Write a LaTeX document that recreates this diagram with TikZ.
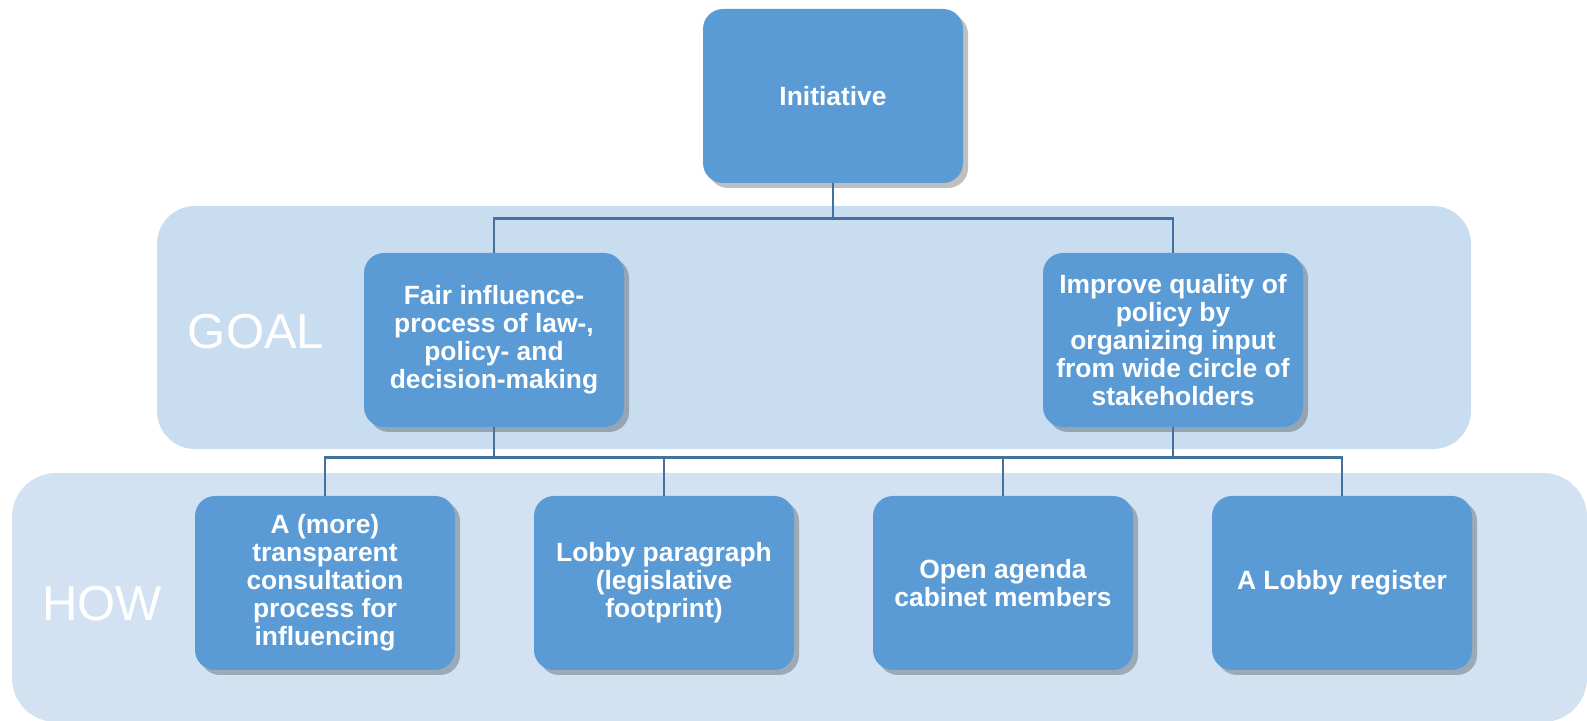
\documentclass[tikz,border=0pt]{standalone}
\usepackage{fontspec}
\setmainfont{Liberation Sans}
\usetikzlibrary{shadows}
\definecolor{boxblue}{HTML}{5B9BD5}
\definecolor{goalband}{HTML}{C9DDF0}
\definecolor{howband}{HTML}{D2E2F2}
\definecolor{linkblue}{HTML}{41719C}
\begin{document}
\begin{tikzpicture}[x=0.5pt,y=-0.5pt,
	box/.style={fill=boxblue, rounded corners=10pt, minimum width=130pt, minimum height=87pt,
		text=white, align=center, font=\fontsize{13.2}{14}\selectfont\bfseries,
		drop shadow={shadow xshift=2.5pt, shadow yshift=-2.5pt, fill=black, opacity=0.25}},
	link/.style={draw=linkblue, line width=1.2pt},
	tag/.style={text=white, font=\fontsize{24.5}{28}\selectfont}]
	\useasboundingbox (0,0) rectangle (1587,721);
	% bands
	\fill [goalband, rounded corners=19pt] (157,206) rectangle (1471,449);
	\fill [howband, rounded corners=22pt] (12,473) rectangle (1587,722);
	\node [tag] (goal) at (256,332) {GOAL};
	\node [tag] (how) at (102,604) {HOW};
	% boxes
	\node [box] (init) at (833,96) {Initiative};
	\node [box] (fair) at (494,340) {Fair influence-\\process of law-,\\policy- and\\decision-making};
	\node [box] (improve) at (1173,340) {Improve quality of\\policy by\\organizing input\\from wide circle of\\stakeholders};
	\node [box] (consult) at (325,583) {A (more)\\transparent\\consultation\\process for\\influencing};
	\node [box] (paragraph) at (664,583) {Lobby paragraph\\(legislative\\footprint)};
	\node [box] (agenda) at (1003,583) {Open agenda\\cabinet members};
	\node [box] (register) at (1342,583) {A Lobby register};
	% connectors
	\draw [link] (init.south) -- ++(0,35) -| (fair.north);
	\draw [link] (init.south) -- ++(0,35) -| (improve.north);
	\foreach \k in {consult,paragraph,agenda,register} {
		\draw [link] (fair.south) -- ++(0,30) -| (\k.north);
		\draw [link] (improve.south) -- ++(0,30) -| (\k.north);
	}
\end{tikzpicture}
\end{document}
